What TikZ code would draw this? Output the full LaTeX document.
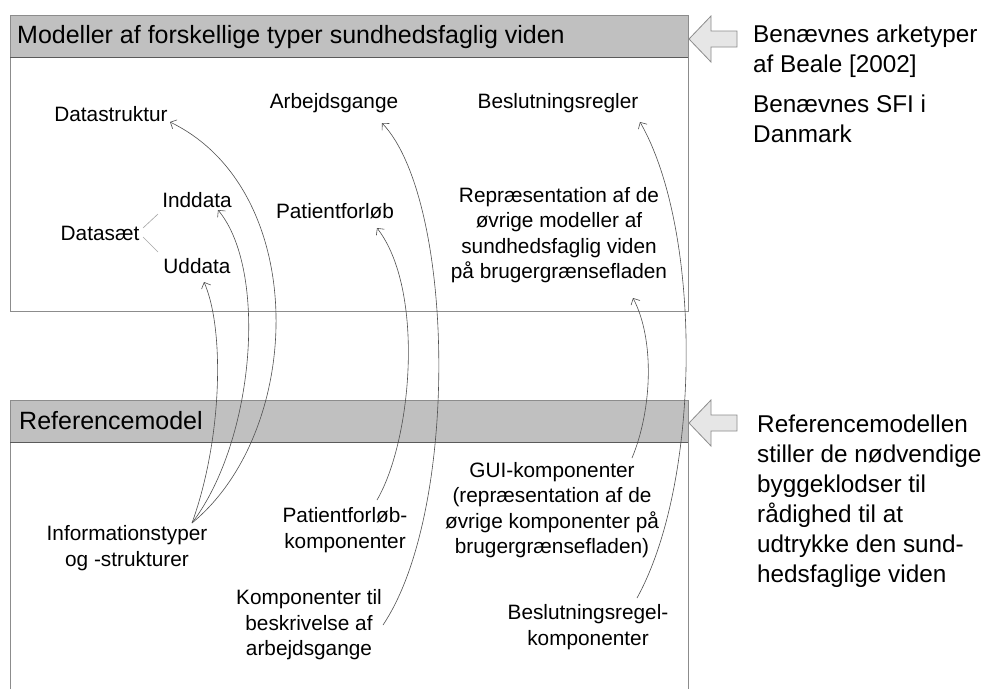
\documentclass[tikz,border=0pt]{standalone}
\usepackage{fontspec}
\setmainfont{Liberation Sans}
\usetikzlibrary{arrows.meta}

\definecolor{bandgrey}{HTML}{C0C0C0}
\definecolor{framegrey}{HTML}{8C8C8C}
\definecolor{rulegrey}{HTML}{5A5A5A}
\definecolor{pointerfill}{HTML}{E6E6E6}
\definecolor{pointerline}{HTML}{8C8C8C}
\definecolor{linkgrey}{HTML}{505050}

\tikzset{
  lbl/.style={inner sep=0pt, align=center, font=\fontsize{20.8}{25.5}\selectfont},
  hdr/.style={inner sep=0pt, anchor=west, font=\fontsize{25}{29}\selectfont},
  side/.style={inner sep=0pt, anchor=west, align=left, font=\fontsize{24.3}{30}\selectfont},
  link/.style={draw=linkgrey, line width=0.6pt, -{Straight Barb[length=5pt,width=10pt]}},
  twig/.style={draw=gray!70, line width=0.6pt},
  frame/.style={draw=framegrey, line width=1pt},
  band/.style={fill=bandgrey},
  pointer/.style={fill=pointerfill, draw=pointerline, line width=0.8pt},
}

\begin{document}
\begin{tikzpicture}[x=1pt,y=-1pt]
\useasboundingbox (0,0) rectangle (988,689);
\fill[white] (0,0) rectangle (988,689);

% upper frame: models of clinical knowledge
\fill[band] (10,15) rectangle (688,57);
\draw[frame] (10,15) rectangle (688,311);
\draw[rulegrey, line width=1pt] (10,57) -- (688,57);

% lower frame: reference model (open at the bottom)
\fill[band] (10,400) rectangle (688,442);
\draw[frame] (10,689) -- (10,400) -- (688,400) -- (688,689);
\draw[rulegrey, line width=1pt] (10,442) -- (688,442);

% block arrows pointing at the frames
\draw[pointer] (689,39) -- (711,16) -- (711,31) -- (737,31) -- (737,47) -- (711,47) -- (711,62) -- cycle;
\draw[pointer] (689,423) -- (711,400) -- (711,415) -- (737,415) -- (737,431) -- (711,431) -- (711,446) -- cycle;

% headers
\node[hdr] (hdrA) at (17,37) {Modeller af forskellige typer sundhedsfaglig viden};
\node[hdr] (hdrB) at (19,421) {Referencemodel};

% notes on the right
\node[side] (arch) at (753,51) {Benævnes arketyper\\af Beale [2002]};
\node[side] (sfi) at (753,119) {Benævnes SFI i\\Danmark};
\node[side] (refnote) at (757,501) {Referencemodellen\\stiller de nødvendige\\byggeklodser til\\rådighed til at\\udtrykke den sund-\\hedsfaglige viden};

% knowledge models
\node[lbl] (dstr) at (111,114) {Datastruktur};
\node[lbl] (arb) at (334,103) {Arbejdsgange};
\node[lbl] (besl) at (558,103) {Beslutningsregler};
\node[lbl] (inn) at (197,200) {Inddata};
\node[lbl] (dset) at (100,233) {Datasæt};
\node[lbl] (udd) at (197,266) {Uddata};
\node[lbl] (pfl) at (335,211) {Patientforløb};
\node[lbl] (repr) at (559,235) {Repræsentation af de\\øvrige modeller af\\sundhedsfaglig viden\\på brugergrænsefladen};

% reference model components
\node[lbl] (info) at (127,548) {Informationstyper\\og -strukturer};
\node[lbl] (pflk) at (345,530) {Patientforløb-\\komponenter};
\node[lbl] (arbk) at (309,625) {Komponenter til\\beskrivelse af\\arbejdsgange};
\node[lbl] (gui) at (552,510) {GUI-komponenter\\(repræsentation af de\\øvrige komponenter på\\brugergrænsefladen)};
\node[lbl] (beslk) at (588,627) {Beslutningsregel-\\komponenter};

% data set branches
\draw[twig] ([shift={(43,-5)}]dset.center) -- ([shift={(-39,14)}]inn.center);
\draw[twig] ([shift={(43,4)}]dset.center) -- ([shift={(-39,-14)}]udd.center);

% component -> model links
\draw[link] ([shift={(65,-25)}]info.center) .. controls (305,430) and (310,190) .. ([shift={(59,8)}]dstr.center);
\draw[link] ([shift={(65,-25)}]info.center) .. controls (255,440) and (268,270) .. ([shift={(21,10)}]inn.center);
\draw[link] ([shift={(65,-25)}]info.center) .. controls (222,440) and (225,330) .. ([shift={(7,16)}]udd.center);
\draw[link] ([shift={(32,-30)}]pflk.center) .. controls (412,440) and (425,290) .. ([shift={(42,17)}]pfl.center);
\draw[link] ([shift={(74,0)}]arbk.center) .. controls (460,510) and (455,200) .. ([shift={(48,20)}]arb.center);
\draw[link] ([shift={(80,-52)}]gui.center) .. controls (652,410) and (655,340) .. ([shift={(74,63)}]repr.center);
\draw[link] ([shift={(49,-29)}]beslk.center) .. controls (702,480) and (702,230) .. ([shift={(82,19)}]besl.center);
\end{tikzpicture}
\end{document}
